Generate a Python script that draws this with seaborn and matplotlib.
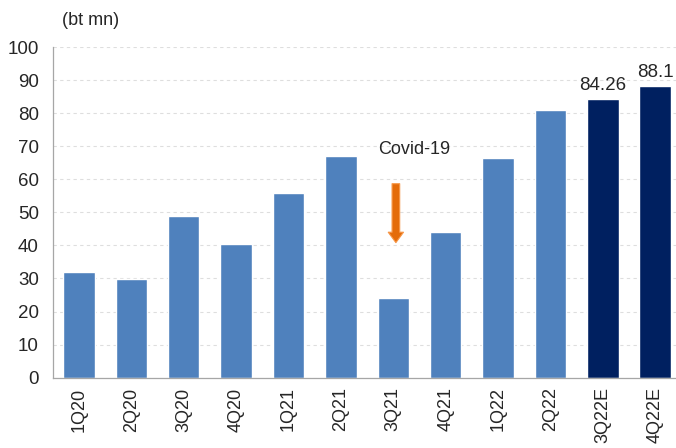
import pandas as pd
import seaborn as sns
import matplotlib.pyplot as plt
from matplotlib.ticker import FixedLocator

quarters = ['1Q20', '2Q20', '3Q20', '4Q20', '1Q21', '2Q21', '3Q21', '4Q21',
            '1Q22', '2Q22', '3Q22E', '4Q22E']
values = [32.0, 29.7, 49.0, 40.5, 56.0, 67.0, 24.0, 44.0, 66.5, 81.0, 84.26, 88.1]
kind = ['actual'] * 10 + ['estimate'] * 2
est_labels = ['84.26', '88.1']

df = pd.DataFrame({'Quarter': quarters, 'Value': values, 'Kind': kind})

sns.set_style('white')
plt.rcParams['font.family'] = ['Liberation Sans', 'DejaVu Sans']

fig = plt.figure(figsize=(6.76, 4.48), dpi=100)
ax = fig.add_axes([0.078, 0.157, 0.93, 0.738])

sns.barplot(data=df, x='Quarter', y='Value', hue='Kind',
            palette={'actual': '#4F81BD', 'estimate': '#002060'},
            dodge=False, width=0.6, legend=False, ax=ax, saturation=1)

ax.set_ylim(0, 100)
ax.set_xlim(-0.5, len(quarters) - 0.5)
ax.set_yticks(range(0, 101, 10))
ax.yaxis.grid(True, linestyle=(0, (3, 3)), color='#dedede', linewidth=0.8)
ax.set_axisbelow(True)
ax.set_xlabel('')
ax.set_ylabel('')

for s in ['top', 'right']:
    ax.spines[s].set_visible(False)
for s in ['left', 'bottom']:
    ax.spines[s].set_color('#a6a6a6')
    ax.spines[s].set_linewidth(0.9)

ax.tick_params(axis='y', labelsize=13.5, length=4, color='#a6a6a6', pad=6)
ax.tick_params(axis='x', which='major', labelsize=13, length=0, pad=7, labelrotation=90)
ax.xaxis.set_minor_locator(FixedLocator([i - 0.5 for i in range(len(quarters) + 1)]))
ax.tick_params(axis='x', which='minor', length=5, color='#a6a6a6')

# labels over the estimate bars
for i, lab in zip([10, 11], est_labels):
    ax.text(i, values[i] + 1.5, lab, ha='center', va='bottom', fontsize=13.5)

# Covid-19 annotation
ax.text(6.4, 66.5, 'Covid-19', ha='center', va='bottom', fontsize=13)
ax.annotate('', xy=(6.05, 40), xytext=(6.05, 59.5),
            arrowprops=dict(arrowstyle='simple,head_width=1.1,head_length=0.75,tail_width=0.55',
                            fc='#E46C0A', ec='#F79646', lw=0.8))

fig.text(0.092, 0.955, '(bt mn)', ha='left', va='center', fontsize=13)

plt.savefig('out.png', dpi=100)
